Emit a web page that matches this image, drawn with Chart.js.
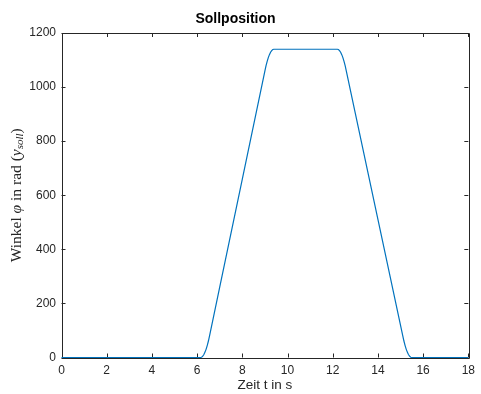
<!DOCTYPE html>
<html>
<head>
<meta charset="utf-8">
<script src="https://cdn.jsdelivr.net/npm/chart.js@4"></script>
<style>
  html, body { margin: 0; padding: 0; background: #fff; }
  canvas { display: block; }
</style>
</head>
<body>
<canvas id="sollChart" width="481" height="394"></canvas>
<script>
// Sollposition (Zeit in s, Winkel in rad)
const zeit = [0, 6.15, 6.2, 6.25, 6.3, 6.35, 6.4, 6.45, 6.5, 6.55, 7, 8,
    9, 9.05, 9.1, 9.15, 9.2, 9.25, 9.3, 9.35, 9.4,
    12.2, 12.25, 12.3, 12.35, 12.4, 12.45, 12.5, 12.55, 12.6, 13, 14,
    15.1, 15.15, 15.2, 15.25, 15.3, 15.35, 15.4, 15.45, 15.5, 18];
const winkel = [0, 0, 1, 5, 11, 20, 31, 45, 61, 80, 260, 660,
    1060, 1079, 1095, 1109, 1120, 1129, 1135, 1139, 1140,
    1140, 1139, 1135, 1129, 1120, 1109, 1095, 1079, 1060, 903, 511,
    80, 61, 45, 31, 20, 11, 5, 1, 0, 0];
const xTicks = [0, 2, 4, 6, 8, 10, 12, 14, 16, 18];
const yTicks = [0, 200, 400, 600, 800, 1000, 1200];

const axisColor = '#262626';

// matlab style box with inward ticks + latex-ish y label
const matlabAxes = {
    id: 'matlabAxes',
    beforeDatasetsDraw(chart) {
        const { ctx, chartArea: a, scales } = chart;
        const len = 4;
        ctx.save();
        ctx.strokeStyle = axisColor;
        ctx.lineWidth = 1;
        ctx.beginPath();
        ctx.rect(Math.round(a.left) + 0.5, Math.round(a.top) + 0.5,
            Math.round(a.right - a.left), Math.round(a.bottom - a.top));
        xTicks.forEach(v => {
            const x = Math.round(scales.x.getPixelForValue(v)) + 0.5;
            ctx.moveTo(x, a.bottom); ctx.lineTo(x, a.bottom - len);
            ctx.moveTo(x, a.top); ctx.lineTo(x, a.top + len);
        });
        yTicks.forEach(v => {
            const y = Math.round(scales.y.getPixelForValue(v)) + 0.5;
            ctx.moveTo(a.left, y); ctx.lineTo(a.left + len, y);
            ctx.moveTo(a.right, y); ctx.lineTo(a.right - len, y);
        });
        ctx.stroke();
        ctx.restore();
    },
    afterDraw(chart) {
        const { ctx, chartArea: a } = chart;
        const parts = [
            { t: 'Winkel ', f: '15.5px "Liberation Serif"', dy: 0 },
            { t: 'φ', f: 'italic 15.5px "Liberation Serif"', dy: 0 },
            { t: ' in rad (', f: '15.5px "Liberation Serif"', dy: 0 },
            { t: 'y', f: 'italic 15.5px "Liberation Serif"', dy: 0 },
            { t: 'soll', f: 'italic 11px "Liberation Serif"', dy: 3 },
            { t: ')', f: '15.5px "Liberation Serif"', dy: 0 }
        ];
        ctx.save();
        let total = 0;
        parts.forEach(p => { ctx.font = p.f; p.w = ctx.measureText(p.t).width; total += p.w; });
        ctx.translate(17, (a.top + a.bottom) / 2);
        ctx.rotate(-Math.PI / 2);
        ctx.fillStyle = axisColor;
        ctx.textBaseline = 'middle';
        let x = -total / 2;
        parts.forEach(p => {
            ctx.font = p.f;
            ctx.fillText(p.t, x, p.dy);
            x += p.w;
        });
        ctx.restore();
    }
};

const config = {
    type: 'line',
    data: {
        datasets: [{
            label: 'Sollposition',
            data: zeit.map((t, i) => ({ x: t, y: winkel[i] })),
            borderColor: '#0072BD',
            borderWidth: 1.2,
            pointRadius: 0,
            tension: 0,
            clip: false
        }]
    },
    options: {
        responsive: false,
        animation: false,
        devicePixelRatio: 1,
        layout: { padding: { left: 0, right: 10, top: 0, bottom: 0 } },
        scales: {
            x: {
                type: 'linear',
                min: 0,
                max: 18,
                afterFit: s => { s.height = 36.5; },
                afterBuildTicks: s => { s.ticks = xTicks.map(v => ({ value: v })); },
                grid: { display: false, drawTicks: false },
                border: { display: false },
                ticks: {
                    color: axisColor,
                    padding: 6,
                    maxRotation: 0,
                    callback: v => String(v),
                    font: { family: 'Liberation Sans', size: 12 }
                },
                title: {
                    display: true,
                    text: 'Zeit t in s',
                    color: axisColor,
                    padding: { top: 0, bottom: 1 },
                    font: { family: 'Liberation Sans', size: 13.5 }
                }
            },
            y: {
                min: 0,
                max: 1200,
                afterFit: s => { s.width = 61.5; },
                afterBuildTicks: s => { s.ticks = yTicks.map(v => ({ value: v })); },
                grid: { display: false, drawTicks: false },
                border: { display: false },
                ticks: {
                    color: axisColor,
                    padding: 5.5,
                    callback: v => String(v),
                    font: { family: 'Liberation Sans', size: 12 }
                }
            }
        },
        plugins: {
            legend: { display: false },
            tooltip: { enabled: false },
            title: {
                display: true,
                text: 'Sollposition',
                color: '#000',
                padding: { top: 11, bottom: 5.2 },
                font: { family: 'Liberation Sans', size: 14, weight: 'bold' }
            }
        }
    },
    plugins: [matlabAxes]
};

const sollChart = new Chart(document.getElementById('sollChart'), config);
</script>
</body>
</html>
